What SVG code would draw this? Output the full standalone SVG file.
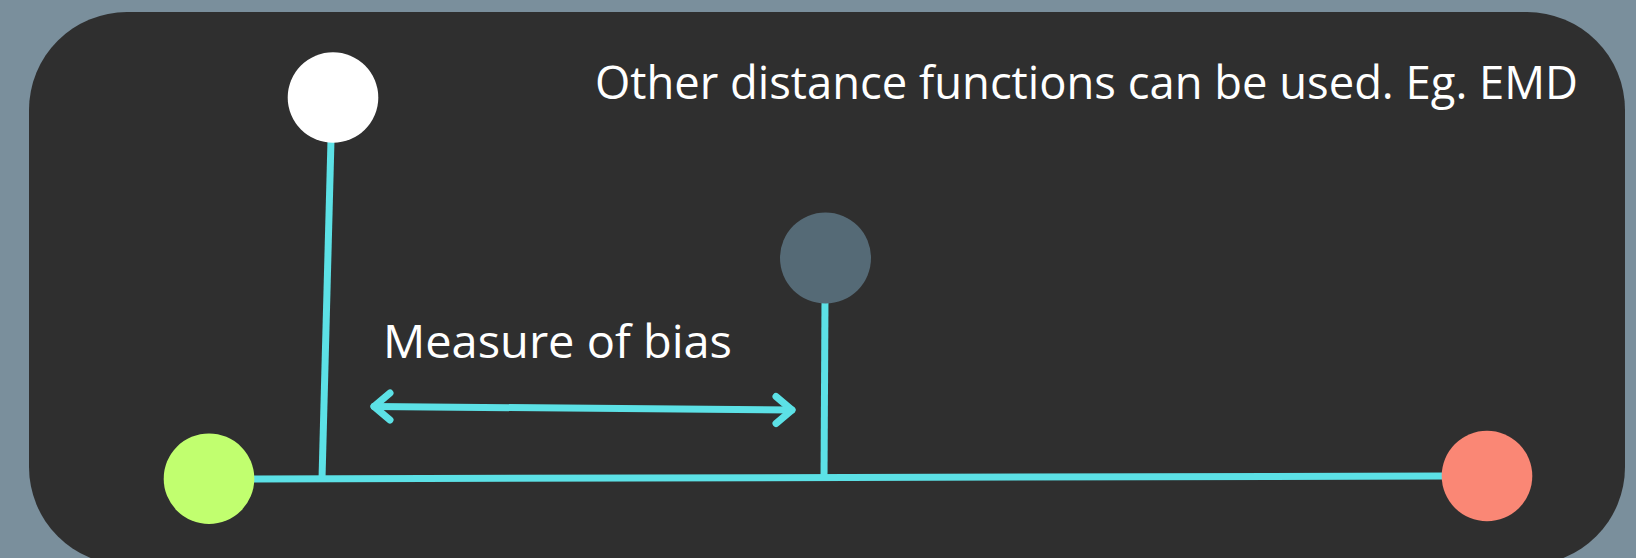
<svg xmlns="http://www.w3.org/2000/svg" width="1636" height="558" viewBox="0 0 1636 558">
<style>
.lbl{font-family:"Open Sans","Noto Sans","Liberation Sans",sans-serif;font-size:46px;fill:#ffffff}
.conn{stroke:#5ce1e6;stroke-width:7;fill:none}
.head{stroke:#5ce1e6;stroke-width:7;fill:none;stroke-linecap:round;stroke-linejoin:round}
</style>
<rect x="0" y="0" width="1636" height="558" fill="#7a8f9c"/>
<rect x="29" y="12" width="1596" height="553" rx="98" ry="98" fill="#2f2f2f"/>
<g id="connectors">
<line class="conn" x1="250" y1="479" x2="1445" y2="476"/>
<line class="conn" x1="331" y1="140" x2="322" y2="479"/>
<line class="conn" x1="825" y1="300" x2="824" y2="479"/>
<line class="head" x1="374" y1="406.5" x2="792" y2="410"/>
<polyline class="head" points="390,393 374,406.5 390,420"/>
<polyline class="head" points="776,396.5 792,410 776,423.5"/>
</g>
<g id="node-white"><circle cx="333" cy="97.5" r="45.3" fill="#ffffff"/></g>
<g id="node-gray"><circle cx="825.5" cy="258" r="45.5" fill="#556a76"/></g>
<g id="node-green"><circle cx="209" cy="478.7" r="45.3" fill="#c1ff6f"/></g>
<g id="node-salmon"><circle cx="1487" cy="476" r="45.3" fill="#fa8775"/></g>
<g id="label-bias"><text class="lbl" x="383" y="357.7" textLength="349" lengthAdjust="spacingAndGlyphs">Measure of bias</text></g>
<g id="label-note"><text class="lbl" x="595" y="98.5" textLength="983" lengthAdjust="spacingAndGlyphs">Other distance functions can be used. Eg. EMD</text></g>
</svg>
